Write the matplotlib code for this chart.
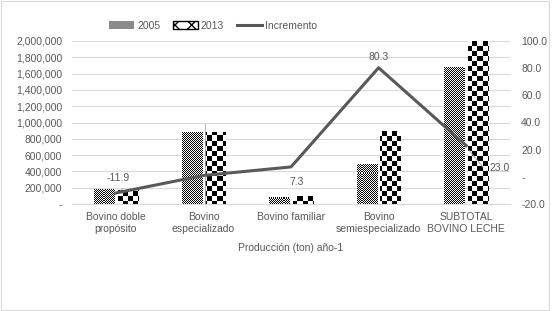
import matplotlib
matplotlib.use("Agg")
import matplotlib.pyplot as plt
import numpy as np
from matplotlib.patches import Rectangle
from matplotlib.lines import Line2D

plt.rcParams['font.family'] = ['Liberation Sans', 'DejaVu Sans']

categories = ['Bovino doble\npropósito', 'Bovino\nespecializado', 'Bovino familiar',
              'Bovino\nsemiespecializado', 'SUBTOTAL\nBOVINO LECHE']
prod2005 = [190000, 880000, 90000, 495000, 1680000]
prod2013 = [167000, 889000, 97000, 892000, 2070000]
incremento = [-11.9, 1.0, 7.3, 80.3, 23.0]
labels_inc = ['-11.9', '', '7.3', '80.3', '23.0']

left_ticks = np.arange(0, 2000001, 200000)
right_ticks = np.arange(-20, 101, 20)

grey = '#595959'
W, H = 553, 311

fig = plt.figure(figsize=(W / 100, H / 100), dpi=100)
# pixel aligned axes so the fill patterns map 1:1 onto screen pixels
ax = fig.add_axes([72 / W, 107 / H, 438 / W, 163 / H])
ax2 = ax.twinx()

x = np.arange(len(categories))
w = 0.23
b1 = ax.bar(x - 0.135, prod2005, w, color='none', edgecolor='none', zorder=2)
b2 = ax.bar(x + 0.135, prod2013, w, color='none', edgecolor='none', zorder=2)

ii, jj = np.indices((163, 438))
fine = ((ii + jj) % 2).astype(float)
coarse = (((ii // 5) + (jj // 5)) % 2).astype(float)
for r in b1:
    im = ax.imshow(fine, cmap='gray', vmin=0, vmax=1, extent=[0, 1, 0, 1],
                   transform=ax.transAxes, aspect='auto', interpolation='nearest', zorder=2)
    im.set_clip_path(r)
for r in b2:
    im = ax.imshow(coarse, cmap='gray', vmin=0, vmax=1, extent=[0, 1, 0, 1],
                   transform=ax.transAxes, aspect='auto', interpolation='nearest', zorder=2)
    im.set_clip_path(r)

ax.set_xlim(-0.5, len(categories) - 0.5)
ax.set_ylim(0, 2000000)
ax.set_yticks(left_ticks)
ax.set_yticklabels(['-' if v == 0 else f'{v:,}' for v in left_ticks])
ax.grid(axis='y', color='#d9d9d9', linewidth=0.8, zorder=0)
ax.set_axisbelow(True)
ax.set_xticks(x)
ax.set_xticklabels(categories, fontsize=7.5, color=grey, linespacing=1.15)
ax.tick_params(axis='both', length=0, labelsize=7.5, colors=grey)
ax.tick_params(axis='y', pad=7)
ax.tick_params(axis='x', pad=6)
for s in ['top', 'right', 'left']:
    ax.spines[s].set_visible(False)
ax.spines['bottom'].set_color('#d9d9d9')
ax.set_xlabel('Producción (ton) año-1', fontsize=7.5, color=grey, labelpad=7)

ax2.plot(x, incremento, color=grey, linewidth=2.2, zorder=5)
ax2.set_ylim(-20, 100)
ax2.set_yticks(right_ticks)
ax2.set_yticklabels(['-' if v == 0 else f'{v:.1f}' for v in right_ticks])
ax2.tick_params(axis='y', length=0, labelsize=7.5, colors=grey, pad=8)
for s in ax2.spines.values():
    s.set_visible(False)

offsets = [(2, 11), (0, 0), (4, -11), (0, 8), (24, -16)]
for xi, yi, lab, off in zip(x, incremento, labels_inc, offsets):
    if lab:
        ax2.annotate(lab, (xi, yi), xytext=off, textcoords='offset points',
                     ha='center', va='center', fontsize=7.5, color=grey)

# leader lines
ax2.plot([0.03, 0.08], [-11.5, -8.8], color='#a6a6a6', lw=0.6, zorder=4)
ax2.plot([4.03, 4.19], [19.7, 7.2], color='#a6a6a6', lw=0.6, zorder=4)
ax2.plot([1.02, 1.02], [-20, 39], color='#a6a6a6', lw=0.6, zorder=4)

# legend
handles = [Rectangle((0, 0), 1, 1, facecolor='#8a8a8a', edgecolor='none'),
           Rectangle((0, 0), 1, 1, facecolor='white', edgecolor='black', hatch='xx'),
           Line2D([0], [0], color=grey, lw=2.2)]
fig.legend(handles, ['2005', '2013', 'Incremento'], loc='center', bbox_to_anchor=(0.385, 0.918),
           ncol=3, frameon=False, fontsize=7.5, labelcolor=grey, handlelength=2.4,
           handletextpad=0.3, columnspacing=1.2)

fig.patches.append(Rectangle((0.002, 0.003), 0.99, 0.994, transform=fig.transFigure,
                             fill=False, edgecolor='#d9d9d9', lw=0.8))

fig.savefig('out.png', dpi=100)
